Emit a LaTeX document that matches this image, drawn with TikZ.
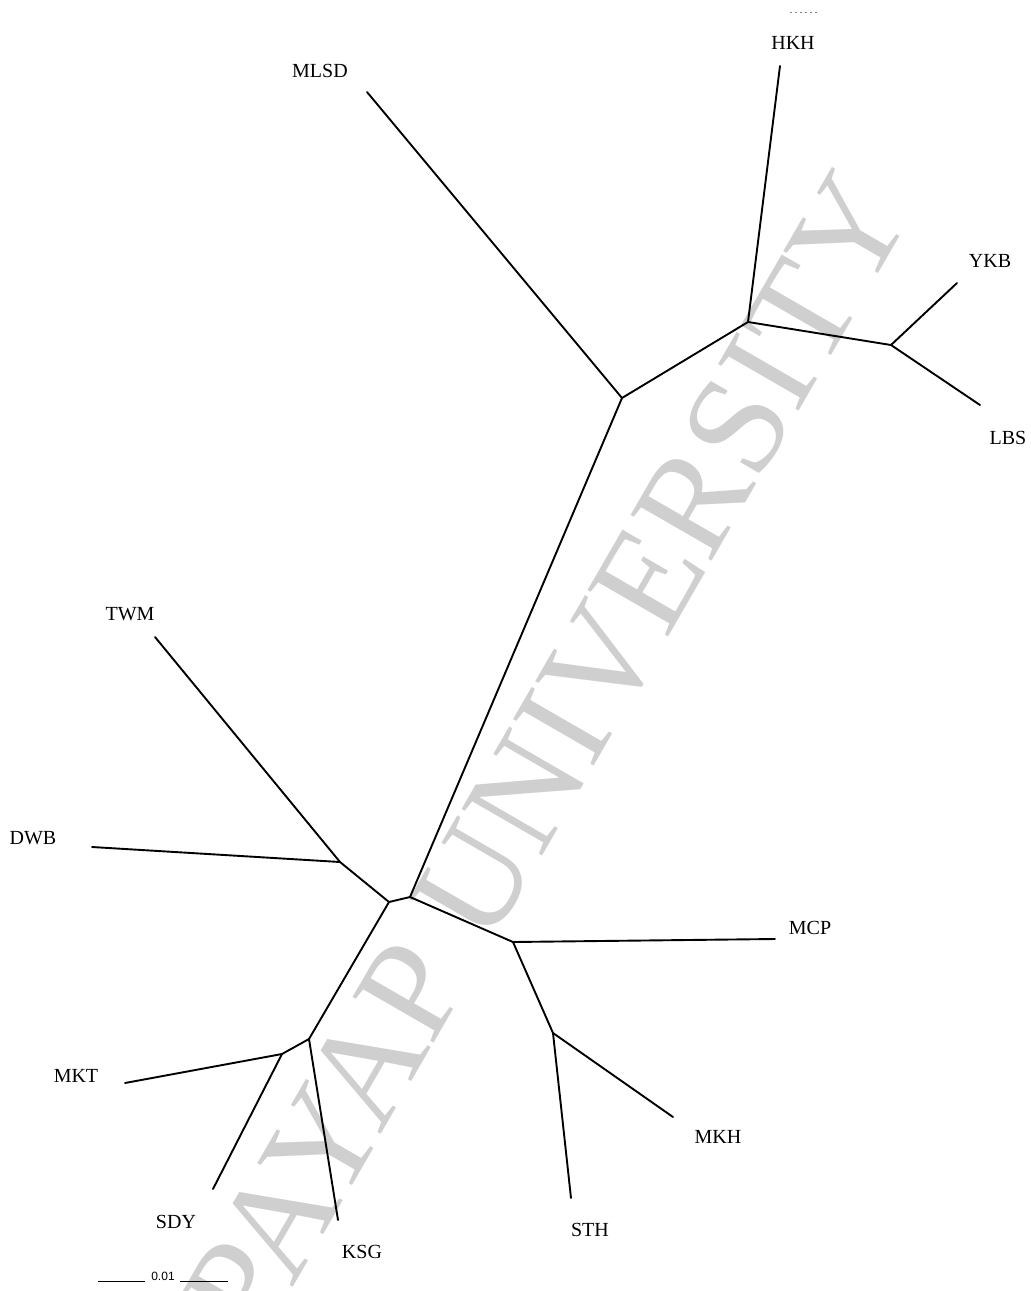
\documentclass[tikz,border=0pt]{standalone}
\usepackage{fontspec}
\setmainfont{Liberation Serif}
\newfontfamily\barfont{Liberation Sans}
\usetikzlibrary{positioning}
\definecolor{markcol}{RGB}{207,207,207}
\tikzset{
  branch/.style={line width=1.9pt, line cap=round, line join=round},
  taxon/.style={font=\fontsize{20}{24}\selectfont, inner sep=0pt},
}

\begin{document}
\begin{tikzpicture}[x=1pt, y=-1pt]
  \useasboundingbox (0,0) rectangle (1031,1291);

  % watermark
  \node[text=markcol, font=\fontsize{142}{142}\selectfont, rotate=60,
        inner sep=0pt, anchor=base east] (mark) at (915,210) {PAYAP UNIVERSITY};

  % tips
  \coordinate (hkh)  at (780,66);
  \coordinate (ykb)  at (957,283);
  \coordinate (lbs)  at (980,405);
  \coordinate (mlsd) at (367,92);
  \coordinate (twm)  at (155,637);
  \coordinate (dwb)  at (92,847);
  \coordinate (mcp)  at (775,939);
  \coordinate (mkh)  at (673,1117);
  \coordinate (sth)  at (571,1198);
  \coordinate (mkt)  at (125,1083);
  \coordinate (sdy)  at (213,1189);
  \coordinate (ksg)  at (338,1220);

  % inner vertices
  \coordinate (v1)  at (748,322);
  \coordinate (v2)  at (891,345);
  \coordinate (v3)  at (622,398);
  \coordinate (v4)  at (410,897);
  \coordinate (v5)  at (389,902);
  \coordinate (v6)  at (340,862);
  \coordinate (v7)  at (513,942);
  \coordinate (v8)  at (553,1033);
  \coordinate (v9)  at (309,1039);
  \coordinate (v10) at (282,1054);

  % branches
  \draw[branch] (v1) -- (hkh);
  \draw[branch] (v1) -- (v2);
  \draw[branch] (v2) -- (ykb);
  \draw[branch] (v2) -- (lbs);
  \draw[branch] (v1) -- (v3);
  \draw[branch] (v3) -- (mlsd);
  \draw[branch] (v3) -- (v4);
  \draw[branch] (v4) -- (v7);
  \draw[branch] (v4) -- (v5);
  \draw[branch] (v5) -- (v6);
  \draw[branch] (v6) -- (twm);
  \draw[branch] (v6) -- (dwb);
  \draw[branch] (v5) -- (v9);
  \draw[branch] (v9) -- (ksg);
  \draw[branch] (v9) -- (v10);
  \draw[branch] (v10) -- (mkt);
  \draw[branch] (v10) -- (sdy);
  \draw[branch] (v7) -- (mcp);
  \draw[branch] (v7) -- (v8);
  \draw[branch] (v8) -- (sth);
  \draw[branch] (v8) -- (mkh);

  % taxon names
  \node[taxon] (lhkh)  at (793,43)   {HKH};
  \node[taxon] (lmlsd) at (320,71)   {MLSD};
  \node[taxon] (lykb)  at (990,261)  {YKB};
  \node[taxon] (llbs)  at (1008,438) {LBS};
  \node[taxon] (ltwm)  at (130,614)  {TWM};
  \node[taxon] (ldwb)  at (33,838)   {DWB};
  \node[taxon] (lmcp)  at (810,928)  {MCP};
  \node[taxon] (lmkh)  at (718,1137) {MKH};
  \node[taxon] (lsth)  at (590,1230) {STH};
  \node[taxon] (lmkt)  at (76,1076)  {MKT};
  \node[taxon] (lsdy)  at (176,1222) {SDY};
  \node[taxon] (lksg)  at (362,1252) {KSG};

  % scale bar
  \node[font=\barfont\fontsize{12}{14}\selectfont, inner sep=0pt] (scl) at (163,1276) {0.01};
  \coordinate (sa) at (98,1281);
  \coordinate (sb) at (145,1281);
  \coordinate (sc) at (180,1281);
  \coordinate (sd) at (228,1281);
  \draw[line width=1pt] (sa) -- (sb);
  \draw[line width=1pt] (sc) -- (sd);

  % scan speck above HKH
  \coordinate (ma) at (790,12);
  \coordinate (mb) at (817,12);
  \draw[gray, line width=0.8pt, dash pattern=on 2pt off 3pt] (ma) -- (mb);
\end{tikzpicture}
\end{document}
